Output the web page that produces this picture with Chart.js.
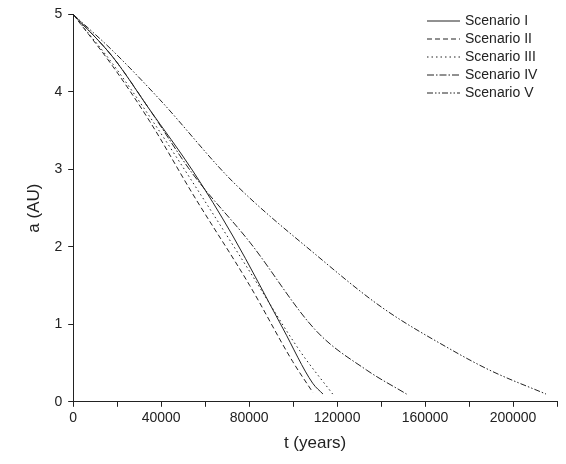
<!DOCTYPE html>
<html><head><meta charset="utf-8">
<script src="https://cdn.jsdelivr.net/npm/chart.js@4"></script>
<style>body{margin:0;background:#fff}#wrap{width:566px;height:464px}</style>
</head><body><div id="wrap"><canvas id="c"></canvas></div>
<script>
const names = ['Scenario I', 'Scenario II', 'Scenario III', 'Scenario IV', 'Scenario V'];
const dashes = [[], [5, 3], [1.5, 3], [7, 2, 1.5, 2], [6, 2, 1.5, 2, 1.5, 2]];
// t (years) and a (AU) per scenario
const t1 = [0, 18000, 34800, 54400, 72600, 95300, 108900, 113600];
const a1 = [5, 4.45, 3.77, 2.98, 2.14, 0.95, 0.24, 0.1];
const t2 = [0, 18000, 34800, 54400, 80300, 99800, 109000];
const a2 = [5, 4.33, 3.62, 2.68, 1.5, 0.52, 0.12];
const t3 = [0, 18000, 34800, 57600, 80300, 103000, 118000];
const a3 = [5, 4.36, 3.68, 2.69, 1.68, 0.66, 0.1];
const t4 = [0, 18000, 34800, 54400, 80300, 110700, 133400, 151600];
const a4 = [5, 4.45, 3.77, 2.94, 2.06, 0.91, 0.41, 0.1];
const t5 = [0, 18000, 39400, 72600, 110700, 140800, 170800, 190000, 215000];
const a5 = [5, 4.53, 3.9, 2.84, 1.89, 1.21, 0.69, 0.4, 0.1];

const series = [[t1, a1], [t2, a2], [t3, a3], [t4, a4], [t5, a5]];
const datasets = series.map(function (s, i) {
    return {
        label: names[i],
        data: s[0].map(function (t, j) { return {x: t, y: s[1][j]}; }),
        borderColor: '#222',
        borderWidth: 1,
        borderDash: dashes[i],
        pointRadius: 0,
        cubicInterpolationMode: 'monotone',
        fill: false
    };
});

// legend drawn by hand so the dash patterns show
const legendPlugin = {
    id: 'dashLegend',
    afterDraw: function (chart) {
        const ctx = chart.ctx;
        ctx.save();
        ctx.font = '14px "Liberation Sans", Arial, sans-serif';
        ctx.textBaseline = 'middle';
        chart.data.datasets.forEach(function (ds, i) {
            const y = 21 + i * 18;
            ctx.strokeStyle = '#222';
            ctx.lineWidth = 1;
            ctx.setLineDash(ds.borderDash);
            ctx.beginPath();
            ctx.moveTo(427, y);
            ctx.lineTo(460, y);
            ctx.stroke();
            ctx.setLineDash([]);
            ctx.fillStyle = '#222';
            ctx.fillText(ds.label, 465, y);
        });
        ctx.restore();
    }
};

const tickFont = {size: 14, family: 'Liberation Sans'};
const titleFont = {size: 17, family: 'Liberation Sans'};

new Chart(document.getElementById('c'), {
    type: 'line',
    data: {datasets: datasets},
    plugins: [legendPlugin],
    options: {
        responsive: true,
        maintainAspectRatio: false,
        animation: false,
        layout: {padding: {top: 8, right: 9, left: 20, bottom: 6}},
        plugins: {legend: {display: false}, tooltip: {enabled: false}},
        scales: {
            x: {
                type: 'linear', min: 0, max: 220000,
                grid: {display: true, drawOnChartArea: false, tickLength: 5, color: '#222'},
                border: {color: '#222'},
                ticks: {stepSize: 20000, color: '#222', font: tickFont,
                    callback: function (v) { return v % 40000 === 0 ? v : ''; }, maxRotation: 0, autoSkip: false},
                title: {display: true, text: 't (years)', color: '#222', font: titleFont}
            },
            y: {
                min: 0, max: 5,
                grid: {display: true, drawOnChartArea: false, tickLength: 5, color: '#222'},
                border: {color: '#222'},
                ticks: {stepSize: 1, color: '#222', font: tickFont, padding: 6},
                title: {display: true, text: 'a (AU)', color: '#222', font: titleFont}
            }
        }
    }
});
</script></body></html>
